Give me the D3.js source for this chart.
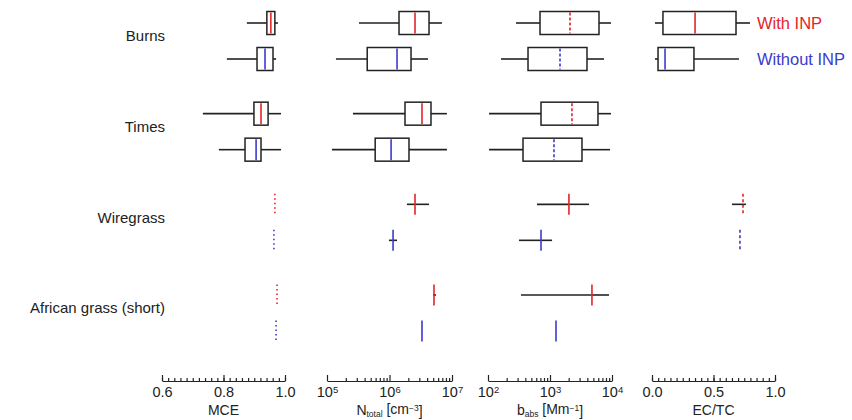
<!DOCTYPE html>
<html>
<head>
<meta charset="utf-8">
<script src="https://cdn.jsdelivr.net/npm/d3@7"></script>
<style>
    body { margin: 0; background: #fff; }
    text { font-family: "Liberation Sans", Arial, sans-serif; }
    .axis path, .axis line { stroke: #222; stroke-width: 1.2; }
</style>
</head>
<body>
<div id="chart"></div>
<script>
var groups = ["Burns", "Times", "Wiregrass", "African grass (short)"];
var seriesNames = ["With INP", "Without INP"];

// one entry per row: Burns/with, Burns/without, Times/with, ...
// [whisker low, q1, median, q3, whisker high], null = no data
var mceStats = [
    [0.876, 0.941, 0.954, 0.967, 0.977],
    [0.811, 0.909, 0.935, 0.961, 0.971],
    [0.733, 0.899, 0.922, 0.945, 0.987],
    [0.785, 0.870, 0.906, 0.922, 0.987],
    [0.967, 0.967, 0.967, 0.967, 0.967],
    [0.964, 0.964, 0.964, 0.964, 0.964],
    [0.974, 0.974, 0.974, 0.974, 0.974],
    [0.971, 0.971, 0.971, 0.971, 0.971]
];
var nTotalStats = [
    [3.25e5, 1.42e6, 2.56e6, 4.29e6, 6.9e6],
    [1.39e5, 4.4e5, 1.32e6, 2.21e6, 4.13e6],
    [2.6e5, 1.77e6, 3.31e6, 4.61e6, 8.3e6],
    [1.2e5, 5.9e5, 1.06e6, 2.05e6, 8.3e6],
    [1.9e6, 2.56e6, 2.56e6, 2.56e6, 4.29e6],
    [9.8e5, 1.14e6, 1.14e6, 1.14e6, 1.32e6],
    [4.97e6, 5.15e6, 5.15e6, 5.15e6, 5.55e6],
    [3.31e6, 3.31e6, 3.31e6, 3.31e6, 3.31e6]
];
var bAbsStats = [
    [283, 690, 2100, 6170, 9640],
    [162, 442, 1450, 3950, 7430],
    [104, 716, 2260, 5940, 9640],
    [104, 367, 1160, 3280, 9290],
    [617, 2020, 2020, 2020, 4260],
    [316, 716, 716, 716, 1080],
    [340, 4750, 4750, 4750, 8950],
    [1250, 1250, 1250, 1250, 1250]
];
var ecTcStats = [
    [0.024, 0.089, 0.35, 0.683, 0.797],
    [0.024, 0.049, 0.106, 0.341, 0.707],
    null,
    null,
    [0.65, 0.74, 0.74, 0.74, 0.764],
    [0.715, 0.715, 0.715, 0.715, 0.715],
    null,
    null
];

var width = 852, height = 420,
    axisY = 381,
    boxH = 23,
    red = "#e3242b",
    blue = "#3b3bcc";

var svg = d3.select("#chart").append("svg")
    .attr("width", width)
    .attr("height", height);

var groupY = d3.scalePoint().domain(groups).range([41, 313]);
var seriesY = d3.scalePoint().domain(seriesNames).range([-18, 18]);
var color = d3.scaleOrdinal().domain(seriesNames).range([red, blue]);

function rowY(i) {
    return groupY(groups[Math.floor(i / 2)]) + seriesY(seriesNames[i % 2]);
}

var panels = [
    {key: "mce", stats: mceStats, scale: d3.scaleLinear().domain([0.6, 1.0]).range([162, 285]),
        majors: [0.6, 0.8, 1.0], minors: d3.range(0.6, 1.001, 0.02), log: false},
    {key: "ntot", stats: nTotalStats, scale: d3.scaleLog().domain([1e5, 1e7]).range([327, 452]),
        majors: [1e5, 1e6, 1e7], minors: [], log: true},
    {key: "babs", stats: bAbsStats, scale: d3.scaleLog().domain([1e2, 1e4]).range([488, 612]),
        majors: [1e2, 1e3, 1e4], minors: [], log: true},
    {key: "ectc", stats: ecTcStats, scale: d3.scaleLinear().domain([0, 1]).range([652, 775]),
        majors: [0, 0.5, 1.0], minors: d3.range(0, 1.001, 0.05), log: false}
];
panels.forEach(function (p) {
    if (p.log) {
        var lo = Math.log10(p.majors[0]), hi = Math.log10(p.majors[p.majors.length - 1]);
        for (var e = lo; e < hi; e++) {
            for (var m = 2; m <= 9; m++) p.minors.push(m * Math.pow(10, e));
        }
    }
});

function medianDash(p, d) {
    var flat = d[3] <= d[1];
    if (p.key == "babs" && !flat) return "3,2";
    if (p.key == "mce" && flat) return "1.5,3";
    if (p.key == "ectc" && flat) return "3,2.5";
    return null;
}

panels.forEach(function (p) {
    var x = p.scale;
    var rows = p.stats.map(function (d, i) { return {d: d, i: i}; })
        .filter(function (r) { return r.d; });

    var g = svg.append("g").attr("class", "panel-" + p.key);

    var row = g.selectAll(".row")
        .data(rows)
        .enter().append("g")
        .attr("class", "row")
        .attr("transform", function (r) { return "translate(0," + rowY(r.i) + ")"; });

    row.filter(function (r) { return r.d[0] < r.d[1]; })
        .append("line")
        .attr("x1", function (r) { return x(r.d[0]); })
        .attr("x2", function (r) { return x(r.d[1]); })
        .attr("stroke", "#222").attr("stroke-width", 1.6);

    row.filter(function (r) { return r.d[4] > r.d[3]; })
        .append("line")
        .attr("x1", function (r) { return x(r.d[3]); })
        .attr("x2", function (r) { return x(r.d[4]); })
        .attr("stroke", "#222").attr("stroke-width", 1.6);

    row.filter(function (r) { return r.d[3] > r.d[1]; })
        .append("rect")
        .attr("x", function (r) { return x(r.d[1]); })
        .attr("y", -boxH / 2)
        .attr("width", function (r) { return x(r.d[3]) - x(r.d[1]); })
        .attr("height", boxH)
        .attr("fill", "#fff")
        .attr("stroke", "#222")
        .attr("stroke-width", 1.5);

    row.append("line")
        .attr("x1", function (r) { return x(r.d[2]); })
        .attr("x2", function (r) { return x(r.d[2]); })
        .attr("y1", -boxH / 2 + 1)
        .attr("y2", boxH / 2 - 1)
        .attr("stroke", function (r) { return color(seriesNames[r.i % 2]); })
        .attr("stroke-width", 1.6)
        .attr("stroke-dasharray", function (r) { return medianDash(p, r.d); });

    // axis: minor ticks, then major ticks with labels
    var ax = svg.append("g")
        .attr("class", "axis")
        .attr("transform", "translate(0," + axisY + ")");
    ax.call(d3.axisBottom(x).tickValues(p.minors).tickSizeInner(-3).tickSizeOuter(0).tickFormat(""));
    var major = ax.append("g")
        .call(d3.axisBottom(x).tickValues(p.majors).tickSizeInner(-6).tickSizeOuter(0).tickPadding(6)
            .tickFormat(p.log ? function () { return ""; } : d3.format(".1f")));
    major.select(".domain").remove();
    major.selectAll(".tick text")
        .attr("font-size", 14.5)
        .attr("fill", "#222")
        .style("font-family", "Liberation Sans, Arial, sans-serif");
    if (p.log) {
        major.selectAll(".tick text").each(function (d) {
            var t = d3.select(this);
            t.append("tspan").text("10");
            t.append("tspan").attr("dy", "-0.45em").attr("font-size", 9.5).text(Math.round(Math.log10(d)));
        });
    }
});

// axis titles
var titleY = 415;
function title(cx) {
    return svg.append("text")
        .attr("x", cx)
        .attr("y", titleY)
        .attr("text-anchor", "middle")
        .attr("font-size", 14)
        .attr("fill", "#222");
}
title(223.5).text("MCE");
var tN = title(389.5);
tN.append("tspan").text("N");
tN.append("tspan").attr("dy", "0.2em").attr("font-size", 8.5).text("total");
tN.append("tspan").attr("dy", "-0.2em").text(" [cm");
tN.append("tspan").attr("dy", "-0.4em").attr("font-size", 8.5).text("\u22123");
tN.append("tspan").attr("dy", "0.4em").text("]");
var tB = title(550);
tB.append("tspan").text("b");
tB.append("tspan").attr("dy", "0.2em").attr("font-size", 8.5).text("abs");
tB.append("tspan").attr("dy", "-0.2em").text(" [Mm");
tB.append("tspan").attr("dy", "-0.4em").attr("font-size", 8.5).text("\u22121");
tB.append("tspan").attr("dy", "0.4em").text("]");
title(713.5).text("EC/TC");

// group labels
svg.selectAll(".groupLabel")
    .data(groups)
    .enter().append("text")
    .attr("class", "groupLabel")
    .attr("x", 165)
    .attr("y", function (d) { return groupY(d) - 5; })
    .attr("dy", "0.35em")
    .attr("text-anchor", "end")
    .attr("font-size", 15)
    .attr("fill", "#222")
    .text(function (d) { return d; });

// legend
svg.selectAll(".legend")
    .data(seriesNames)
    .enter().append("text")
    .attr("class", "legend")
    .attr("x", 757)
    .attr("y", function (d) { return groupY(groups[0]) + seriesY(d); })
    .attr("dy", "0.35em")
    .attr("font-size", 16.5)
    .attr("fill", function (d) { return color(d); })
    .text(function (d) { return d; });
</script>
</body>
</html>
